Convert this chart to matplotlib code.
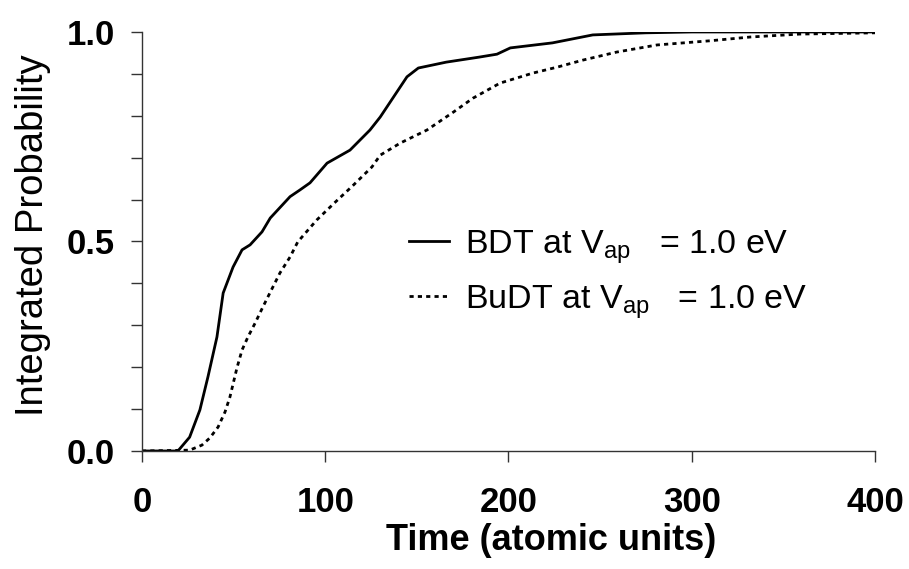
import matplotlib
matplotlib.use("Agg")
import matplotlib.pyplot as plt
import numpy as np

plt.rcParams['font.family'] = ['Liberation Sans', 'DejaVu Sans']
plt.rcParams['mathtext.fontset'] = 'custom'
plt.rcParams['mathtext.rm'] = 'Liberation Sans'

# BDT at V_ap = 1.0 eV (solid)
bdt_t = [0, 19.6, 26, 31.6, 36, 40.9, 44.3, 49.7, 54.6, 59, 65.5, 70, 80.8, 86.2,
         91.7, 101, 113.5, 124.4, 130, 144.6, 150.8, 166, 184, 193.7, 201, 224,
         246, 275, 300, 350, 400]
bdt_p = [0, 0, 0.033, 0.098, 0.177, 0.272, 0.377, 0.439, 0.48, 0.492, 0.523, 0.556,
         0.607, 0.623, 0.64, 0.687, 0.718, 0.766, 0.797, 0.893, 0.914, 0.928, 0.94,
         0.947, 0.962, 0.974, 0.993, 0.998, 1.0, 1.0, 1.0]

# BuDT at V_ap = 1.0 eV (dotted)
budt_t = [0, 26, 32.7, 37, 41.5, 45.3, 48, 51.8, 54.6, 57.8, 61.7, 66, 70, 75.3,
          80.8, 85, 95.3, 105, 115, 125.5, 130, 141, 155.5, 170, 180.6, 195.4,
          213.4, 226.5, 240.7, 259, 281, 310, 332, 359, 400]
budt_p = [0, 0.002, 0.014, 0.031, 0.057, 0.093, 0.129, 0.198, 0.241, 0.272, 0.305,
          0.344, 0.379, 0.425, 0.463, 0.499, 0.551, 0.592, 0.633, 0.678, 0.706,
          0.735, 0.766, 0.809, 0.842, 0.878, 0.902, 0.916, 0.933, 0.952, 0.969,
          0.979, 0.988, 0.995, 0.998]

labels = [r'BDT at V$_{\mathrm{ap}}$   = 1.0 eV', r'BuDT at V$_{\mathrm{ap}}$   = 1.0 eV']

fig = plt.figure(figsize=(9.09, 5.69), dpi=100)
ax = fig.add_axes([0.1562, 0.2074, 0.8064, 0.7364])

ax.plot(bdt_t, bdt_p, color='black', lw=2.0, label=labels[0])
ax.plot(budt_t, budt_p, color='black', lw=2.0, linestyle=(0, (1.5, 1.5)), label=labels[1])

ax.set_xlim(0, 400)
ax.set_ylim(0, 1.0)
ax.set_xticks([0, 100, 200, 300, 400])
ax.set_yticks([0.0, 0.5, 1.0])
ax.set_yticklabels(['0.0', '0.5', '1.0'])
ax.set_yticks(np.arange(0, 1.01, 0.1), minor=True)
ax.tick_params(axis='both', which='both', direction='out', length=8, width=1.0,
               color='#333333', labelsize=25)
ax.tick_params(axis='y', pad=11.5)
ax.tick_params(axis='x', pad=17)
for lab in ax.get_xticklabels() + ax.get_yticklabels():
    lab.set_fontweight('bold')

for s in ['top', 'right']:
    ax.spines[s].set_visible(False)
for s in ['left', 'bottom']:
    ax.spines[s].set_color('#333333')
    ax.spines[s].set_linewidth(1.0)

ax.set_xlabel('Time (atomic units)', fontsize=26, fontweight='bold')
ax.set_ylabel('Integrated Probability', fontsize=27.5)
ax.yaxis.set_label_coords(-0.124, 0.515)
ax.xaxis.set_label_coords(0.558, -0.172)

ax.legend(loc='upper left', bbox_to_anchor=(0.322, 0.605), frameon=False, fontsize=24.5,
          handlelength=1.2, handletextpad=0.45, labelspacing=0.5)

fig.savefig('out.png', dpi=100)
